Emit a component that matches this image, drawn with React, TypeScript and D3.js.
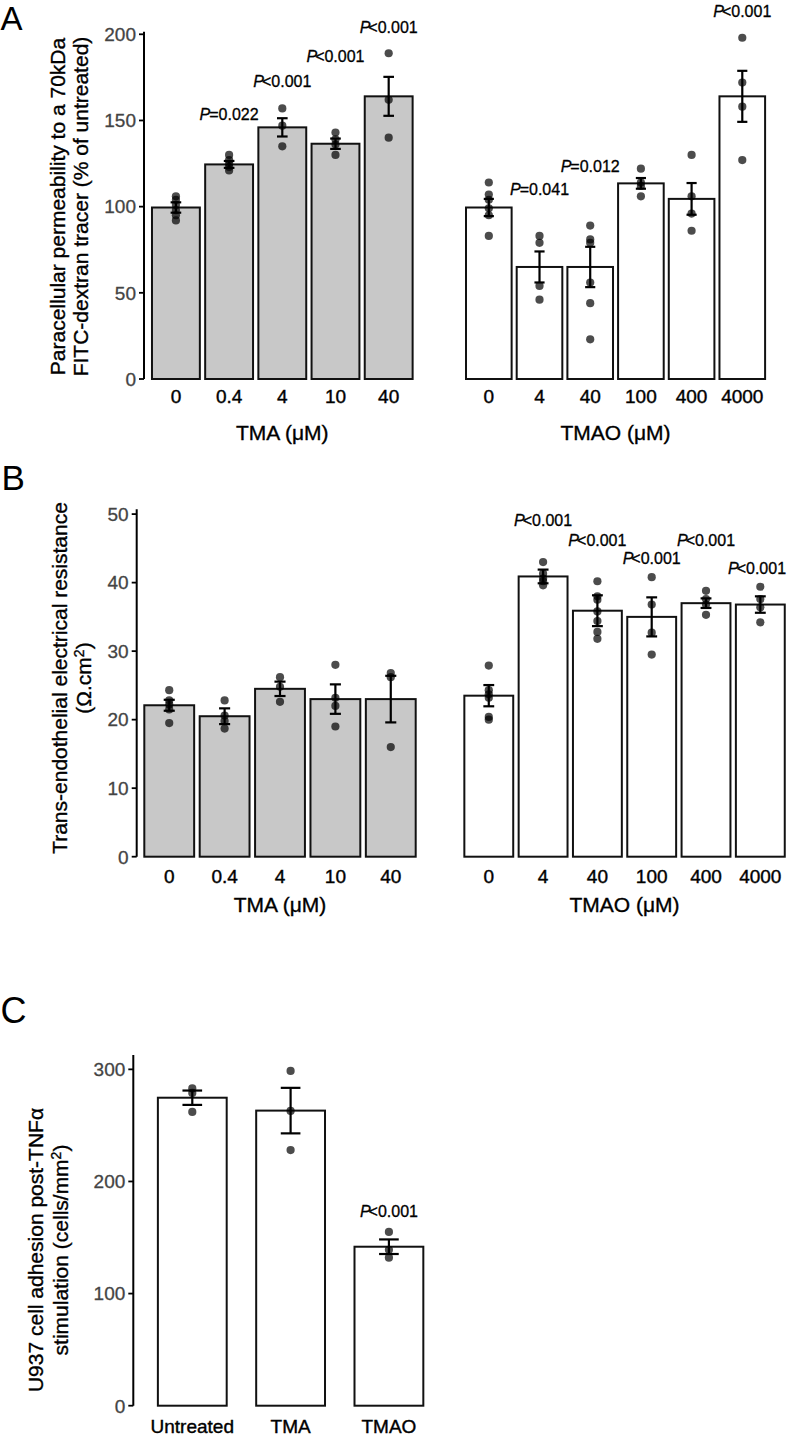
import React from 'react';
import * as d3 from 'd3';

// ---------- Data ----------
const tmaDoses = ['0', '0.4', '4', '10', '40'];
const tmaoDoses = ['0', '4', '40', '100', '400', '4000'];
const cGroups = ['Untreated', 'TMA', 'TMAO'];

// Panel A: paracellular permeability (% of untreated)
const aTmaMean = [99.5, 124.5, 146, 136.5, 164];
const aTmaSem = [3, 2, 5.3, 3, 11.3];
const aTmaPoints = [
  [106, 104, 101, 98, 95, 92],
  [130, 127, 125, 123, 121],
  [157, 147, 135],
  [143, 139, 136, 130],
  [189, 162, 140],
];
const aTmaP = ['', '=0.022', '<0.001', '<0.001', '<0.001'];
const aTmaPy = [0, 150.3, 169.2, 184.1, 200.6];

const aTmaoMean = [99.5, 65, 65, 113.5, 104.5, 164];
const aTmaoSem = [5, 9, 11.7, 3.1, 9.2, 14.8];
const aTmaoPoints = [
  [114, 107, 104, 99, 95, 83],
  [83, 79, 54, 46],
  [89, 81, 79, 56, 44, 23],
  [122, 114, 112, 106],
  [130, 106, 96, 86],
  [198, 172, 158, 127],
];
const aTmaoP = ['', '=0.041', '=0.012', '', '', '<0.001'];
const aTmaoPy = [0, 106.8, 120.3, 0, 0, 210.2];
const aTicks = [0, 50, 100, 150, 200];

// Panel B: TEER (Ohm.cm2)
const bTmaMean = [22.1, 20.5, 24.5, 23, 23];
const bTmaSem = [0.8, 1.15, 1.05, 2.15, 3.4];
const bTmaPoints = [
  [24.3, 22.8, 22.2, 21.5, 19.5],
  [22.8, 20.6, 19.8, 18.7],
  [26.2, 24.8, 22.6],
  [28, 23.2, 22, 19],
  [26.8, 26.2, 16],
];
const bTmaoMean = [23.5, 40.9, 35.9, 35, 37, 36.8];
const bTmaoSem = [1.55, 1.0, 2.25, 2.85, 0.7, 1.2];
const bTmaoPoints = [
  [27.9, 24.3, 23.7, 23.2, 20.4, 20.0],
  [43, 41.3, 40.6, 40.2, 39.6],
  [40.2, 38, 37.5, 35.8, 34.4, 32.8, 31.8],
  [40.8, 36.8, 32.7, 29.5],
  [38.8, 37.6, 36.8, 35.3],
  [39.4, 37.6, 36.4, 34.2],
];
const bTmaoP = ['', '<0.001', '<0.001', '<0.001', '<0.001', '<0.001'];
const bTmaoPy = [0, 48.3, 45.3, 42.7, 45.3, 41.3];
const bTicks = [0, 10, 20, 30, 40, 50];

// Panel C: U937 adhesion (cells/mm2)
const cMean = [274.7, 263.2, 141.8];
const cSem = [6.4, 20.3, 6.5];
const cPoints = [
  [283, 279, 262],
  [298.6, 262.9, 228],
  [155, 139, 132],
];
const cP = ['', '', '<0.001'];
const cPy = [0, 0, 168.6];
const cTicks = [0, 100, 200, 300];

// ---------- Style ----------
const FONT = '"Liberation Sans", Arial, Helvetica, sans-serif';
const GREY_FILL = '#c8c8c8';
const W = 787;

type GroupProps = {
  cats: string[];
  means: number[];
  sems: number[];
  pts: number[][];
  pText?: string[];
  pY?: number[];
  xRange: [number, number];
  y: d3.ScaleLinear<number, number>;
  fill: string;
  widthFrac: number;
  tickLabelDy: number;
};

function BarGroup(p: GroupProps) {
  const pi = 1 - p.widthFrac;
  const po = (0.2 + pi) / 2;
  const x = d3.scaleBand<string>().domain(p.cats).range(p.xRange).paddingInner(pi).paddingOuter(po);
  const step = x.step();
  const bw = x.bandwidth();
  const y0 = p.y(0);
  const cap = step * 0.1;
  return (
    <g>
      {p.cats.map((c, i) => (
        <rect key={'b' + c} x={x(c)!} y={p.y(p.means[i])} width={bw} height={y0 - p.y(p.means[i])}
          fill={p.fill} stroke="#111" strokeWidth={2} />
      ))}
      {p.cats.map((c, i) =>
        p.pts[i].map((v, j) => (
          <circle key={'p' + c + j} cx={x(c)! + bw / 2} cy={p.y(v)} r={4.1} fill="#000" fillOpacity={0.7} />
        ))
      )}
      {p.cats.map((c, i) => {
        const cx = x(c)! + bw / 2;
        const t = p.y(p.means[i] + p.sems[i]);
        const b = p.y(p.means[i] - p.sems[i]);
        return (
          <g key={'e' + c} stroke="#000" strokeWidth={2.2}>
            <line x1={cx} x2={cx} y1={t} y2={b} />
            <line x1={cx - cap} x2={cx + cap} y1={t} y2={t} />
            <line x1={cx - cap} x2={cx + cap} y1={b} y2={b} />
          </g>
        );
      })}
      {p.cats.map((c) => (
        <text key={'t' + c} x={x(c)! + bw / 2} y={y0 + p.tickLabelDy} textAnchor="middle"
          fontSize={19} fill="#000" stroke="#000" strokeWidth={0.4} fontFamily={FONT}>{c}</text>
      ))}
      {p.pText && p.pY && p.cats.map((c, i) => {
        if (!p.pText![i]) return null;
        const half = 29;
        const cx = Math.min(x(c)! + bw / 2, W - 1 - half);
        return (
          <text key={'s' + c} x={cx} y={p.y(p.pY![i])} textAnchor="middle" fontSize={16}
            fill="#000" stroke="#000" strokeWidth={0.3} fontFamily={FONT}>
            <tspan fontStyle="italic">P</tspan>
            <tspan dx={p.pText![i].startsWith('<') ? -2 : -1}>{p.pText![i]}</tspan>
          </text>
        );
      })}
    </g>
  );
}

function YAxis({ y, x, ticks }: { y: d3.ScaleLinear<number, number>; x: number; ticks: number[] }) {
  const [r0, r1] = y.range();
  return (
    <g>
      <line x1={x} x2={x} y1={r0} y2={r1} stroke="#000" strokeWidth={2} />
      {ticks.map((t) => (
        <g key={t}>
          <line x1={x - 5} x2={x} y1={y(t)} y2={y(t)} stroke="#000" strokeWidth={1.8} />
          <text x={x - 8} y={y(t)} dy="0.36em" textAnchor="end" fontSize={19} fill="#444"
            stroke="#444" strokeWidth={0.3} fontFamily={FONT}>{t}</text>
        </g>
      ))}
    </g>
  );
}

function RotTitle({ x, y, lines, gap }: { x: number; y: number; lines: React.ReactNode[]; gap: number }) {
  return (
    <g>
      {lines.map((l, i) => (
        <text key={i} transform={`translate(${x + i * gap},${y}) rotate(-90)`} textAnchor="middle"
          fontSize={21} fill="#000" stroke="#000" strokeWidth={0.35} fontFamily={FONT}>{l}</text>
      ))}
    </g>
  );
}

function XTitle({ x, y, label }: { x: number; y: number; label: string }) {
  return (
    <text x={x} y={y} textAnchor="middle" fontSize={21} fill="#000" stroke="#000" strokeWidth={0.35}
      fontFamily={FONT}>{label}</text>
  );
}

export default function App() {
  const yA = d3.scaleLinear().domain([0, 201.5]).range([379, 31.7]);
  const yB = d3.scaleLinear().domain([0, 50.7]).range([856.7, 509.3]);
  const yC = d3.scaleLinear().domain([0, 312.8]).range([1405.7, 1055]);

  return (
    <svg width={W} height={1436} style={{ position: 'absolute', left: 0, top: 0, background: '#fff' }}
      fontFamily={FONT}>
      <rect x={0} y={0} width={W} height={1436} fill="#fff" />
      {/* Panel letters */}
      <text x={0.5} y={30} fontSize={33} fill="#000">A</text>
      <text x={1.5} y={490} fontSize={35} fill="#000">B</text>
      <text x={0.5} y={1023} fontSize={36} fill="#000">C</text>

      {/* Panel A */}
      <RotTitle x={64.5} y={206.5} gap={23.5}
        lines={['Paracellular permeability to a 70kDa', 'FITC-dextran tracer (% of untreated)']} />
      <BarGroup cats={tmaDoses} means={aTmaMean} sems={aTmaSem} pts={aTmaPoints} pText={aTmaP} pY={aTmaPy}
        xRange={[144, 420.6]} y={yA} fill={GREY_FILL} widthFrac={0.9} tickLabelDy={24.3} />
      <BarGroup cats={tmaoDoses} means={aTmaoMean} sems={aTmaoSem} pts={aTmaoPoints} pText={aTmaoP} pY={aTmaoPy}
        xRange={[458.4, 772.7]} y={yA} fill="#fff" widthFrac={0.9} tickLabelDy={24.3} />
      <YAxis y={yA} x={144} ticks={aTicks} />
      <XTitle x={282.3} y={440} label="TMA (μM)" />
      <XTitle x={615.5} y={440} label="TMAO (μM)" />

      {/* Panel B */}
      <RotTitle x={66.5} y={678} gap={24.5}
        lines={['Trans-endothelial electrical resistance', <>(Ω.cm<tspan dy={-7} fontSize={14}>2</tspan><tspan dy={7}>)</tspan></>]} />
      <BarGroup cats={tmaDoses} means={bTmaMean} sems={bTmaSem} pts={bTmaPoints}
        xRange={[136, 424]} y={yB} fill={GREY_FILL} widthFrac={0.9} tickLabelDy={26.6} />
      <BarGroup cats={tmaoDoses} means={bTmaoMean} sems={bTmaoSem} pts={bTmaoPoints} pText={bTmaoP} pY={bTmaoPy}
        xRange={[456.2, 792.9]} y={yB} fill="#fff" widthFrac={0.9} tickLabelDy={26.6} />
      <YAxis y={yB} x={136.7} ticks={bTicks} />
      <XTitle x={280} y={911.5} label="TMA (μM)" />
      <XTitle x={624.5} y={911.5} label="TMAO (μM)" />

      {/* Panel C */}
      <RotTitle x={43.3} y={1250} gap={25}
        lines={['U937 cell adhesion post-TNFα', <>stimulation (cells/mm<tspan dy={-7} fontSize={14}>2</tspan><tspan dy={7}>)</tspan></>]} />
      <BarGroup cats={cGroups} means={cMean} sems={cSem} pts={cPoints} pText={cP} pY={cPy}
        xRange={[133.3, 447.9]} y={yC} fill="#fff" widthFrac={0.7} tickLabelDy={27} />
      <YAxis y={yC} x={133.3} ticks={cTicks} />
    </svg>
  );
}
